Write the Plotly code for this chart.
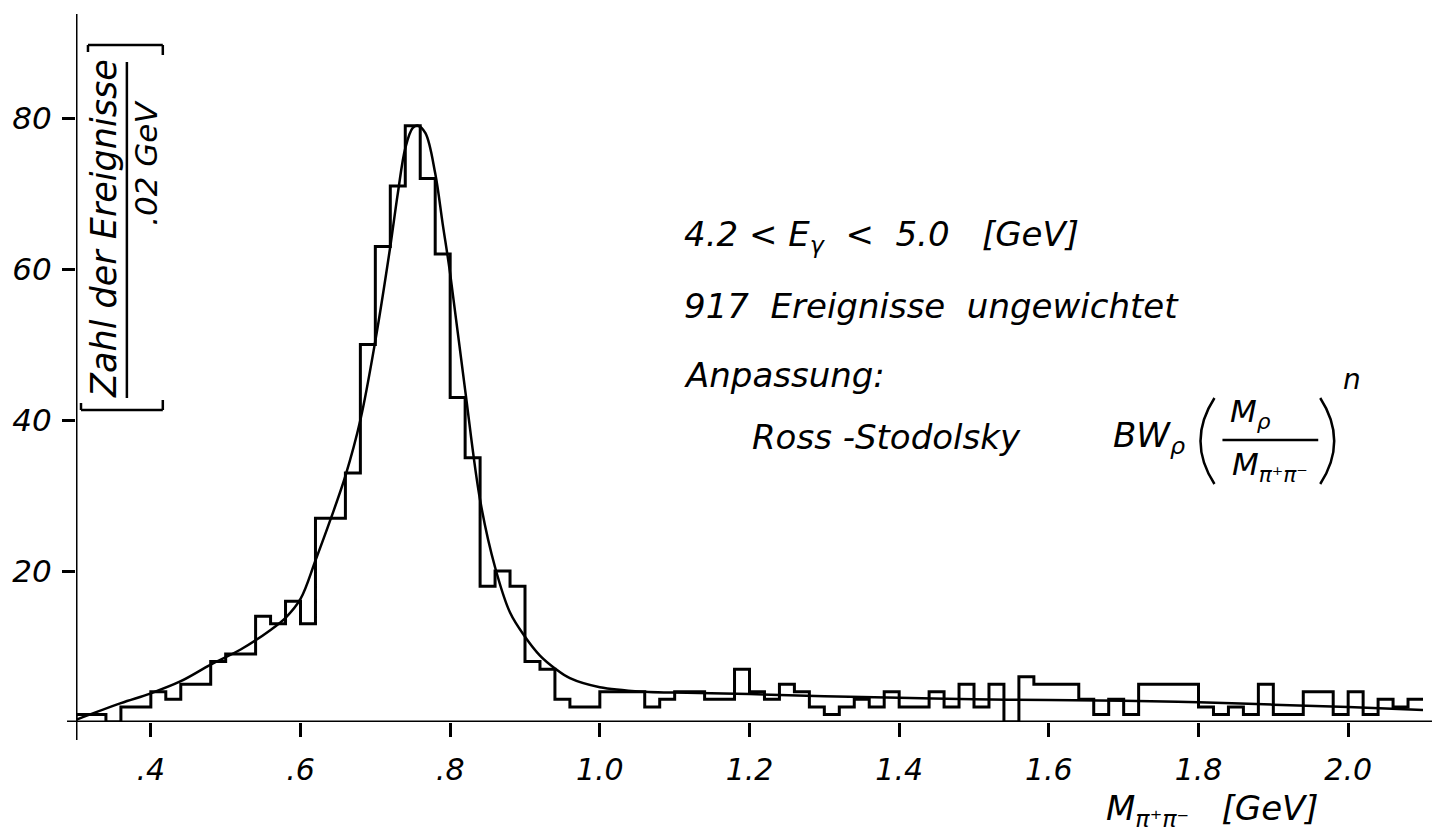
import numpy as np
import plotly.graph_objects as go

# ---------------- data ----------------
bin_start = 0.30          # GeV, left edge of first bin
bin_width = 0.02          # GeV
counts = [1, 1, 0, 2, 2, 4, 3, 5, 5, 8,
          9, 9, 14, 13, 16, 13, 27, 27, 33, 50,
          63, 71, 79, 72, 62, 43, 35, 18, 20, 18,
          8, 7, 3, 2, 2, 4, 4, 4, 2, 3,
          4, 4, 3, 3, 7, 4, 3, 5, 4, 2,
          1, 2, 3, 2, 4, 2, 2, 4, 2, 5,
          2, 5, 0, 6, 5, 5, 5, 3, 1, 3,
          1, 5, 5, 5, 5, 2, 1, 2, 1, 5,
          1, 1, 4, 4, 1, 4, 1, 3, 2, 3]

fit_x = [0.30, 0.36, 0.40, 0.44, 0.48, 0.52, 0.56, 0.58, 0.60, 0.62,
         0.64, 0.66, 0.68, 0.70, 0.72, 0.73, 0.74, 0.75, 0.757, 0.767,
         0.78, 0.79, 0.80, 0.82, 0.84, 0.86, 0.88, 0.90, 0.92, 0.94,
         0.96, 1.00, 1.06, 1.10, 1.20, 1.30, 1.40, 1.50, 1.60, 1.70,
         1.80, 1.90, 2.00, 2.10]
fit_y = [0.3, 2.5, 3.8, 5.4, 7.6, 9.6, 12.2, 13.8, 16.3, 21.4,
         26.8, 32.6, 40.0, 50.5, 63.0, 70.0, 76.0, 78.7, 79.0, 78.0,
         72.7, 66.0, 59.4, 44.0, 29.4, 20.5, 14.5, 11.3, 8.8, 7.1,
         5.8, 4.6, 4.0, 3.9, 3.7, 3.4, 3.2, 3.0, 2.9, 2.8,
         2.6, 2.3, 2.0, 1.6]

x_tickvals = [0.4, 0.6, 0.8, 1.0, 1.2, 1.4, 1.6, 1.8, 2.0]
x_ticktext = [".4", ".6", ".8", "1.0", "1.2", "1.4", "1.6", "1.8", "2.0"]
y_tickvals = [20, 40, 60, 80]
y_ticktext = ["20", "40", "60", "80"]

# ---------------- layout geometry ----------------
W, H = 1444, 836
ML, MR, MT, MB = 73, 21, 20, 114
PW, PH = W - ML - MR, H - MT - MB
FONT = "DejaVu Sans"


def px(X):
    return (X - ML) / PW


def py(Y):
    return (H - MB - Y) / PH


edges = bin_start + bin_width * np.arange(len(counts) + 1)
hist_x = [edges[0]] + list(edges)
hist_y = [0] + list(counts) + [counts[-1]]

fig = go.Figure()
fig.add_trace(go.Scatter(x=hist_x, y=hist_y, mode="lines",
                         line=dict(shape="hv", color="black", width=3),
                         hoverinfo="skip", showlegend=False))
fig.add_trace(go.Scatter(x=fit_x, y=fit_y, mode="lines",
                         line=dict(shape="spline", smoothing=1.0,
                                   color="black", width=2.5),
                         hoverinfo="skip", showlegend=False))

shapes = []
# axis lines (extend slightly beyond plot corner as in original)
shapes.append(dict(type="line", xref="paper", yref="y", x0=px(64), x1=px(1432),
                   y0=0, y1=0, line=dict(color="black", width=3)))
shapes.append(dict(type="line", xref="x", yref="paper", x0=0.3, x1=0.3,
                   y0=py(740), y1=py(14), line=dict(color="black", width=3)))
# y-title bracket and fraction bar
lw = dict(color="black", width=2.5)
shapes += [
    dict(type="line", xref="paper", yref="paper", x0=px(85), x1=px(160), y0=py(45), y1=py(45), line=lw),
    dict(type="line", xref="paper", yref="paper", x0=px(85), x1=px(85), y0=py(45), y1=py(52), line=lw),
    dict(type="line", xref="paper", yref="paper", x0=px(160), x1=px(160), y0=py(45), y1=py(55), line=lw),
    dict(type="line", xref="paper", yref="paper", x0=px(78), x1=px(160), y0=py(410), y1=py(410), line=lw),
    dict(type="line", xref="paper", yref="paper", x0=px(78), x1=px(78), y0=py(410), y1=py(403), line=lw),
    dict(type="line", xref="paper", yref="paper", x0=px(160), x1=px(160), y0=py(410), y1=py(400), line=lw),
    dict(type="line", xref="paper", yref="paper", x0=px(124), x1=px(124), y0=py(62), y1=py(398), line=lw),
    # formula fraction bar
    dict(type="line", xref="paper", yref="paper", x0=px(1222), x1=px(1318), y0=py(440), y1=py(440), line=lw),
]


def paren(Xend, Xmid, Ytop, Ybot):
    p = (f"M {px(Xend)} {py(Ytop)} Q {px(Xmid)} {py((Ytop + Ybot) / 2)} "
         f"{px(Xend)} {py(Ybot)}")
    return dict(type="path", xref="paper", yref="paper", path=p,
                line=dict(color="black", width=2.5))


shapes.append(paren(1214, 1186, 398, 484))
shapes.append(paren(1320, 1348, 398, 484))


def ann(text, X, Y, xanchor="left", size=34, angle=0):
    return dict(text=text, xref="paper", yref="paper", x=px(X), y=py(Y),
                xanchor=xanchor, yanchor="middle", showarrow=False,
                textangle=angle,
                font=dict(family=FONT, size=size, color="black", style="italic"))


annotations = [
    ann("4.2 &lt; E<sub>γ</sub>&nbsp;&nbsp;&lt;&nbsp;&nbsp;5.0&nbsp;&nbsp;&nbsp;[GeV]", 680, 236),
    ann("917&nbsp;&nbsp;Ereignisse&nbsp;&nbsp;ungewichtet", 680, 306),
    ann("Anpassung:", 680, 375),
    ann("Ross -Stodolsky", 748, 437),
    ann("BW<sub>ρ</sub>", 1110, 437),
    ann("M<sub>ρ</sub>", 1250, 414, xanchor="center", size=31),
    ann("M<sub>π⁺π⁻</sub>", 1270, 466, xanchor="center", size=31),
    ann("n", 1352, 379, xanchor="center", size=28),
    # y title
    ann("Zahl der Ereignisse", 101, 228, xanchor="center", size=35, angle=-90),
    ann(".02 GeV", 143, 163, xanchor="center", size=31, angle=-90),
    # x title
    ann("M<sub>π⁺π⁻</sub>&nbsp;&nbsp;&nbsp;[GeV]", 1103, 810, size=34),
]

fig.update_layout(
    width=W, height=H,
    margin=dict(l=ML, r=MR, t=MT, b=MB, pad=0),
    paper_bgcolor="white", plot_bgcolor="white",
    shapes=shapes, annotations=annotations,
    xaxis=dict(range=[0.3, 2.1], showgrid=False, zeroline=False, showline=False,
               tickmode="array", tickvals=x_tickvals, ticktext=x_ticktext,
               ticks="outside", ticklen=14, tickwidth=3, tickcolor="black",
               tickfont=dict(family=FONT, size=30, color="black", style="italic"),
               ticklabelstandoff=7),
    yaxis=dict(range=[0, 93], showgrid=False, zeroline=False, showline=False,
               tickmode="array", tickvals=y_tickvals, ticktext=y_ticktext,
               ticks="outside", ticklen=13, tickwidth=3, tickcolor="black",
               tickfont=dict(family=FONT, size=31, color="black", style="italic"),
               ticklabelstandoff=4),
)

fig.write_html("out.html")
